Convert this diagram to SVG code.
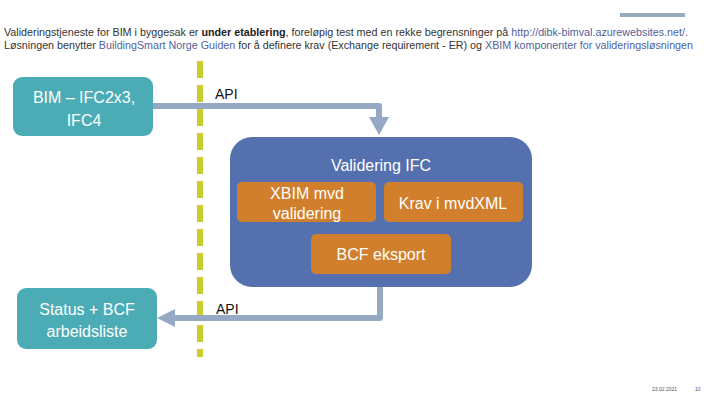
<svg xmlns="http://www.w3.org/2000/svg" width="720" height="405" viewBox="0 0 720 405">
<defs>
<style>
.hdr{font-family:"Liberation Sans",Arial,sans-serif;font-size:10.5px;fill:#333}
.lnk{fill:#4f5f9c}
.b{font-weight:bold;fill:#222}
.teal{fill:#4bacb6}
.org{fill:#d17f2c}
.big{fill:#5470ae}
.wt{font-family:"Liberation Sans",Arial,sans-serif;font-size:16px;fill:#fff;text-anchor:middle}
.api{font-family:"Liberation Sans",Arial,sans-serif;font-size:14px;fill:#111}
.con{fill:none;stroke:#95a9c5;stroke-width:6;stroke-linejoin:round}
.head{fill:#95a9c5}
.ft{font-family:"Liberation Sans",Arial,sans-serif;font-size:5px;fill:#555}
</style>
</defs>
<rect width="720" height="405" fill="#fff"/>
<rect x="620" y="13" width="65" height="4" fill="#97abbd"/>
<text class="hdr" x="4" y="36" textLength="684" lengthAdjust="spacingAndGlyphs">Valideringstjeneste for BIM i byggesak er <tspan class="b">under etablering</tspan>, foreløpig test med en rekke begrensninger på <tspan class="lnk">http://dibk-bimval.azurewebsites.net/.</tspan></text>
<text class="hdr" x="4" y="49" textLength="689" lengthAdjust="spacingAndGlyphs">Løsningen benytter <tspan class="lnk">BuildingSmart Norge Guiden</tspan>  for å definere krav (Exchange requirement - ER) og <tspan class="lnk">XBIM komponenter for valideringsløsningen</tspan></text>
<line x1="200" y1="61" x2="200" y2="357" stroke="#c9cf2a" stroke-width="6" stroke-dasharray="17 7"/>
<g id="connectors">
<path class="con" d="M150 106 H379 V118"/>
<polygon class="head" points="369,117 389,117 379,135"/>
<path class="con" d="M380 285 V318 H174"/>
<polygon class="head" points="175,309 175,327 157,318"/>
<text class="api" x="215" y="99">API</text>
<text class="api" x="216" y="314">API</text>
</g>
<g id="bim">
<rect class="teal" x="13" y="77" width="140" height="59" rx="9"/>
<text class="wt" x="84" y="103">BIM – IFC2x3,</text>
<text class="wt" x="84" y="126">IFC4</text>
</g>
<g id="validering">
<rect class="big" x="230" y="137" width="302" height="150" rx="22"/>
<text class="wt" x="381" y="171">Validering IFC</text>
</g>
<g id="xbim">
<rect class="org" x="237" y="182" width="139" height="40" rx="5"/>
<text class="wt" x="307" y="199">XBIM mvd</text>
<text class="wt" x="307" y="219">validering</text>
</g>
<g id="krav">
<rect class="org" x="384" y="182" width="139" height="40" rx="5"/>
<text class="wt" x="453" y="209">Krav i mvdXML</text>
</g>
<g id="bcf">
<rect class="org" x="311" y="234" width="140" height="40" rx="5"/>
<text class="wt" x="381" y="260">BCF eksport</text>
</g>
<g id="status">
<rect class="teal" x="17" y="288" width="140" height="61" rx="9"/>
<text class="wt" x="87" y="315">Status + BCF</text>
<text class="wt" x="87" y="337">arbeidsliste</text>
</g>
<text class="ft" x="652" y="391">23.02.2021</text>
<text class="ft" x="695" y="391">10</text>
</svg>
